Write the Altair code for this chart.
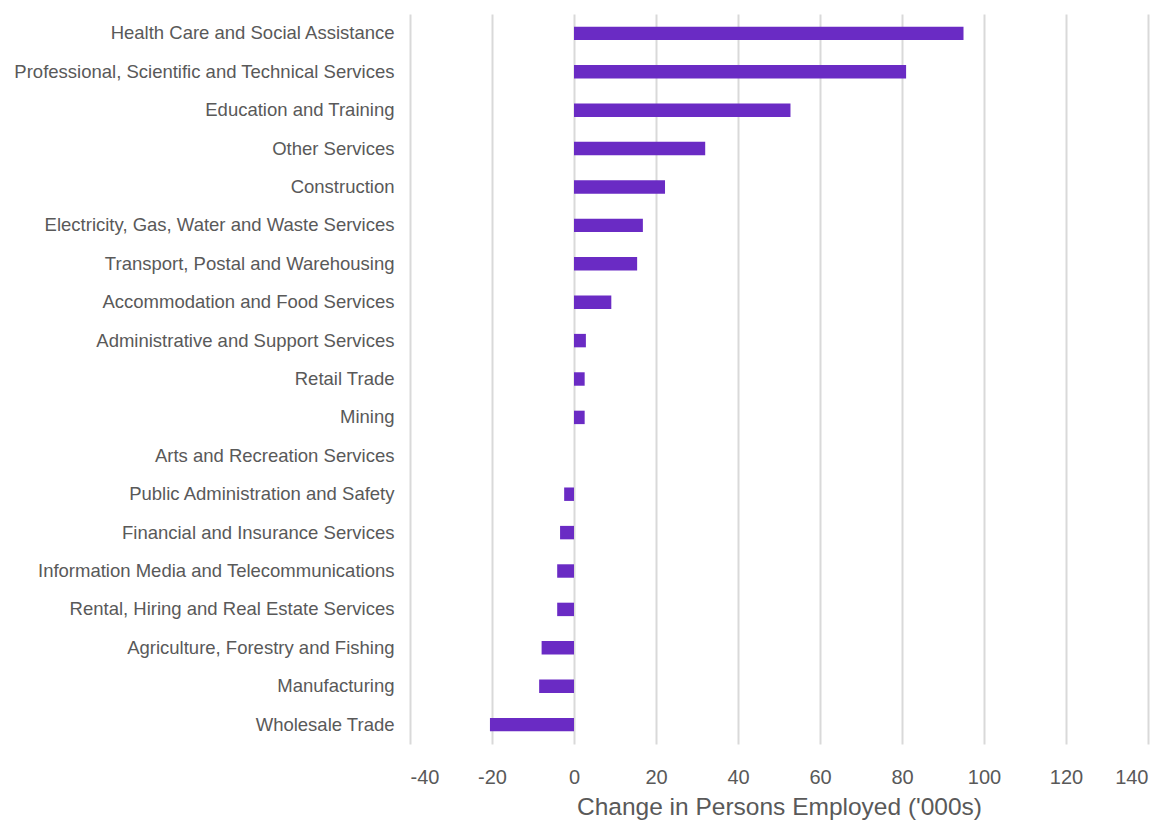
import altair as alt
import pandas as pd

categories = [
    "Health Care and Social Assistance",
    "Professional, Scientific and Technical Services",
    "Education and Training",
    "Other Services",
    "Construction",
    "Electricity, Gas, Water and Waste Services",
    "Transport, Postal and Warehousing",
    "Accommodation and Food Services",
    "Administrative and Support Services",
    "Retail Trade",
    "Mining",
    "Arts and Recreation Services",
    "Public Administration and Safety",
    "Financial and Insurance Services",
    "Information Media and Telecommunications",
    "Rental, Hiring and Real Estate Services",
    "Agriculture, Forestry and Fishing",
    "Manufacturing",
    "Wholesale Trade",
]
values = [95.0, 81.0, 52.8, 32.0, 22.2, 16.8, 15.4, 9.1, 2.9, 2.6, 2.6, 0.0,
          -2.4, -3.4, -4.1, -4.1, -7.9, -8.5, -20.5]
x_ticks = [-40, -20, 0, 20, 40, 60, 80, 100, 120, 140]

df = pd.DataFrame({"industry": categories, "change": values})

chart = alt.Chart(df).mark_bar(color="#6A2BC4").encode(
    x=alt.X(
        "change:Q",
        scale=alt.Scale(domain=[-40, 140], nice=False, zero=False),
        axis=alt.Axis(
            values=x_ticks,
            labelExpr="'' + datum.value",
            title="Change in Persons Employed ('000s)",
            grid=True,
            gridColor="#d9d9d9",
            gridWidth=2,
            domain=False,
            ticks=False,
            labelFontSize=20,
            labelColor="#595959",
            labelPadding=23,
            titleFontSize=24.5,
            titleColor="#595959",
            titleFontWeight="normal",
            titlePadding=8,
        ),
    ),
    y=alt.Y(
        "industry:N",
        sort=categories,
        scale=alt.Scale(paddingInner=0.65, paddingOuter=0.33),
        axis=alt.Axis(
            title=None,
            domain=False,
            ticks=False,
            labelFontSize=18.5,
            labelColor="#595959",
            labelPadding=16,
            labelLimit=500,
        ),
    ),
).properties(
    width=738,
    height=730,
    autosize=alt.AutoSizeParams(type="none"),
    padding={"left": 402, "top": 6, "right": 14, "bottom": 76},
).configure(
    font="Liberation Sans",
    view={"stroke": None},
)

chart.save("out.html", embed_options={"renderer": "svg", "actions": False})
